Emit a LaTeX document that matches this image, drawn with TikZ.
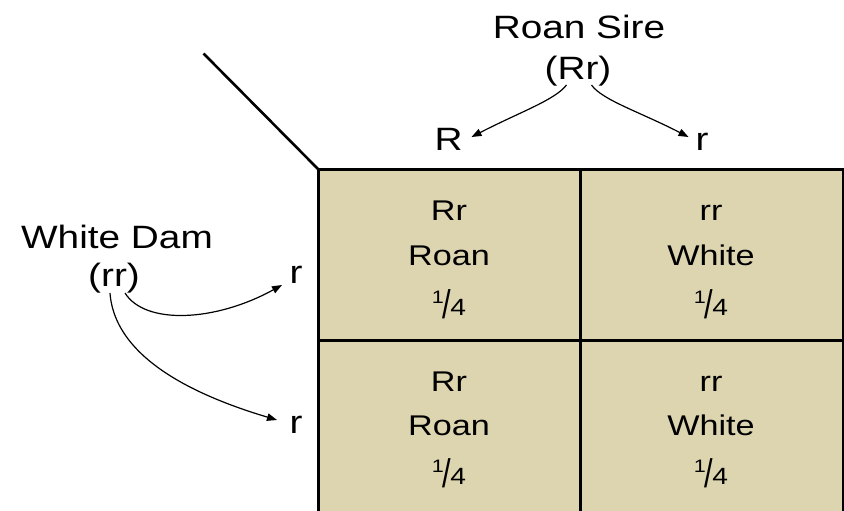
\documentclass[tikz,border=0pt]{standalone}
\usepackage{fontspec}
\setmainfont[FakeStretch=1.2]{Liberation Sans}
\usetikzlibrary{arrows.meta}
\definecolor{cellfill}{RGB}{221,213,176}
\newcommand{\myqtr}{\raisebox{12pt}{\fontsize{18}{18}\selectfont 1}\kern-1pt\raisebox{-3pt}{\scalebox{0.9}[1.4]{/}}\kern-1pt{\fontsize{23.5}{24}\selectfont 4}}
\begin{document}
\begin{tikzpicture}[x=1pt,y=-1pt,
  big/.style={font=\fontsize{32.3}{36}\selectfont, inner sep=0pt, anchor=base},
  cell/.style={font=\fontsize{28.5}{32}\selectfont, inner sep=0pt, anchor=base},
  grid/.style={line width=3pt},
  conn/.style={line width=1.2pt, -{Triangle[length=10pt,width=7.5pt]}}]
\useasboundingbox (0,0) rectangle (844,511);
\begin{scope}
  \clip (0,0) rectangle (844,511);
  \fill[cellfill] (318,169) rectangle (843,520);
  \draw[grid] (318,520) -- (318,169) -- (844,169);
  \draw[grid] (580,169) -- (580,520);
  \draw[grid] (318,340) -- (843,340);
  \draw[line width=1.5pt] (843,169) -- (843,520);
\end{scope}
\coordinate (diagA) at (203.5,53.5);
\coordinate (diagB) at (318,169);
\draw[line width=2.6pt] (diagA) -- (diagB);

% sire
\node[big] (sire) at (579,38.5) {Roan Sire};
\node[big] (sirege) at (578,80) {(Rr)};
\node[big] (sR) at (448.5,150) {R};
\node[big] (sr) at (702,150) {r};
\coordinate (sL) at (566.5,85);
\coordinate (sRt) at (471.5,137);
\coordinate (sRr) at (591.5,85);
\coordinate (srt) at (688.5,137);
\draw[conn] (sL) .. controls (555,100) and (520,112) .. (sRt);
\draw[conn] (sRr) .. controls (602,100) and (640,112) .. (srt);

% dam
\node[big] (dam) at (117,248.3) {White Dam};
\node[big] (damge) at (114,286) {(rr)};
\node[big] (dr1) at (296,283) {r};
\node[big] (dr2) at (296,433) {r};
\coordinate (dA) at (125,293);
\coordinate (dAt) at (282,285);
\coordinate (dB) at (110,293);
\coordinate (dBt) at (277,420);
\draw[conn] (dA) .. controls (145,325) and (215,322) .. (dAt);
\draw[conn] (dB) .. controls (115,360) and (200,397) .. (dBt);

% cells
\node[cell] (c11a) at (449,220) {Rr};
\node[cell] (c11b) at (449,265.5) {Roan};
\node[cell] (c11c) at (449,315) {\myqtr};
\node[cell] (c12a) at (711,220) {rr};
\node[cell] (c12b) at (711,265.5) {White};
\node[cell] (c12c) at (711,315) {\myqtr};
\node[cell] (c21a) at (449,391.5) {Rr};
\node[cell] (c21b) at (449,435.5) {Roan};
\node[cell] (c21c) at (449,484) {\myqtr};
\node[cell] (c22a) at (711,391.5) {rr};
\node[cell] (c22b) at (711,435.5) {White};
\node[cell] (c22c) at (711,484) {\myqtr};
\end{tikzpicture}
\end{document}
